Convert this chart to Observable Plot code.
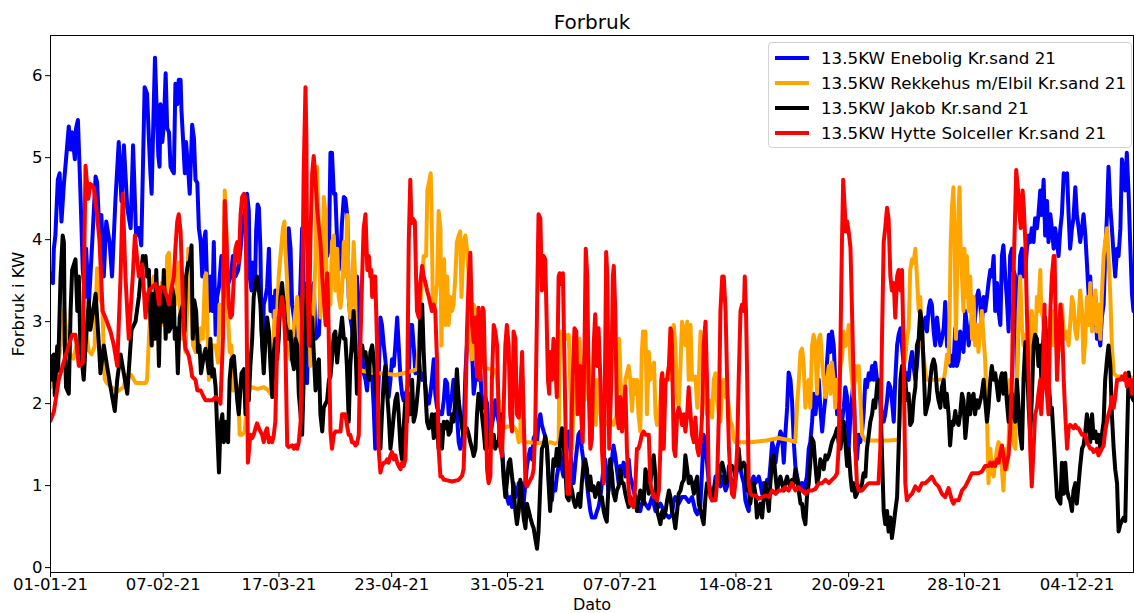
<!DOCTYPE html>
<html><head><meta charset="utf-8">
<script src="https://cdn.jsdelivr.net/npm/d3@7"></script>
<script src="https://cdn.jsdelivr.net/npm/@observablehq/plot@0.6"></script>
<style>
body{margin:0;background:#fff;font-family:"DejaVu Sans",sans-serif;}
#wrap{position:relative;width:1134px;height:613px;}
#legend{position:absolute;left:768px;top:42px;width:364px;height:106px;border:1px solid #d3d3d3;border-radius:4px;background:rgba(255,255,255,0.85);box-sizing:border-box;padding:2px 0 0 6px;}
.row{height:25px;display:flex;align-items:center;font-size:16.7px;color:#000;white-space:nowrap;}
.row svg{margin-right:12px;flex:none}
</style></head><body><div id="wrap"></div>
<script>
const title = "Forbruk";
const xLabel = "Dato";
const yLabel = "Forbruk i KW";
const startDate = "01-01-21";
const endDay = 355.5;
const tickLabels = ["01-01-21","07-02-21","17-03-21","23-04-21","31-05-21","07-07-21","14-08-21","20-09-21","28-10-21","04-12-21"];
const yTicks = [0,1,2,3,4,5,6];
const yDomain = [-0.06, 6.49];
const seriesNames = ["13.5KW Enebolig Kr.sand 21","13.5KW Rekkehus m/Elbil Kr.sand 21","13.5KW Jakob Kr.sand 21","13.5KW Hytte Solceller Kr.sand 21"];
const seriesColors = ["blue","orange","black","red"];

// [day since 01-01-21, kW]
const enebolig = [[0,3.59],[0.8,3.47],[1.1,3.89],[1.6,4.05],[2.4,4.73],[3.0,4.81],[3.6,4.22],[4.4,4.68],[5.1,4.98],[6.0,5.38],[6.6,5.1],[7.1,5.31],[8.0,4.98],[8.4,5.36],[9.0,5.46],[9.8,4.6],[10.6,3.63],[11.3,3.3],[11.7,3.89],[12.6,3.21],[13.7,3.97],[14.8,4.77],[15.3,4.7],[15.9,4.22],[16.7,4.3],[17.5,3.55],[18.3,4.22],[19.4,3.97],[20.2,3.55],[21.3,4.47],[22.4,5.19],[23.3,4.47],[24.1,5.15],[25.2,4.39],[26.3,4.14],[27.1,5.15],[28.1,4.05],[29.0,4.14],[29.8,3.93],[30.9,5.86],[31.7,5.78],[32.3,5.23],[32.8,4.81],[33.2,4.56],[33.9,5.65],[34.3,6.22],[34.8,5.65],[35.4,5.02],[35.8,4.89],[36.1,5.65],[36.7,5.19],[37.2,5.4],[37.8,6.03],[38.3,5.36],[38.9,5.31],[39.4,4.89],[39.9,4.85],[40.5,4.81],[41.0,5.9],[41.6,5.65],[42.1,5.95],[42.7,5.95],[43.0,5.57],[43.5,5.23],[44.1,4.81],[44.5,5.19],[45.2,4.85],[45.7,4.56],[46.5,5.4],[47.1,5.23],[47.6,4.73],[48.2,4.69],[48.7,4.14],[49.3,3.97],[49.8,3.55],[50.3,3.97],[50.9,4.1],[51.4,3.47],[52.0,3.13],[52.5,3.55],[53.1,3.13],[53.6,3.97],[54.2,2.84],[54.7,3.3],[55.3,3.42],[56.1,3.8],[56.9,3.3],[58.0,3.42],[59.1,3.55],[59.9,3.8],[60.7,3.55],[61.6,3.63],[62.4,3.89],[63.1,4.22],[64.0,4.39],[64.5,4.56],[65.1,4.35],[65.4,3.55],[66,3.38],[66.4,3.72],[67.1,3.38],[67.5,4.1],[68.0,4.43],[68.4,4.39],[68.9,3.89],[69.3,2.88],[69.7,2.63],[70.0,3.21],[70.6,3.3],[71.1,3.42],[71.7,3.89],[72.2,3.13],[72.8,3.3],[73.3,3.05],[73.8,3.38],[74.4,3.3],[74.9,3.05],[75.5,3.13],[76.0,3.3],[76.6,3.21],[77.1,2.92],[77.7,2.79],[78.2,4.14],[78.8,3.89],[79.3,3.21],[79.9,3.05],[80.4,2.79],[81.5,2.79],[82.6,4.14],[83.1,3.47],[83.7,3.0],[84.2,2.25],[84.8,3.13],[85.3,3.3],[86.4,3.47],[87,2.79],[88.1,2.84],[88.6,3.3],[89.2,3.72],[90.3,3.97],[90.8,3.8],[91.4,3.89],[91.9,5.06],[92.4,5.06],[93.0,4.56],[93.5,4.56],[94.1,3.97],[94.6,3.63],[95.2,3.8],[95.7,4.22],[96.3,4.52],[96.8,4.5],[97.4,4.3],[97.9,3.3],[98.4,3.05],[99.0,2.92],[99.5,2.71],[100.1,2.63],[100.6,3.55],[101.0,3.3],[101.4,2.79],[101.7,2.5],[102.3,2.63],[102.8,2.37],[103.4,2.29],[103.9,2.16],[104.5,2.46],[105.0,2.29],[105.6,2.33],[106.1,1.95],[106.6,1.45],[107.2,1.66],[107.7,2.29],[108.3,3.05],[108.8,2.96],[109.4,2.71],[109.9,2.54],[110.5,2.29],[111.0,2.08],[111.6,2.29],[112.1,2.54],[112.7,2.46],[113.2,2.71],[113.8,3.05],[114.3,2.71],[114.9,2.29],[115.4,2.12],[115.9,2.04],[116.5,2.12],[117.0,2.16],[117.6,2.29],[118.1,2.96],[118.7,2.96],[119.2,2.71],[119.8,2.37],[120.3,2.46],[120.9,2.54],[121.4,2.37],[122.0,2.29],[122.5,2.37],[123.1,2.2],[123.6,2.04],[124.2,2.0],[124.7,2.12],[125.2,2.29],[125.8,2.54],[126.3,2.12],[126.9,1.95],[127.4,1.91],[128.0,1.87],[128.5,1.87],[129.1,2.04],[129.6,2.29],[130.2,2.25],[130.7,1.87],[131.3,2.0],[131.8,2.12],[132.3,2.29],[132.9,2.04],[133.4,1.87],[134.0,1.53],[134.5,1.45],[135.1,1.53],[135.6,1.66],[136.2,2.37],[136.7,2.71],[137.3,2.88],[137.8,2.79],[138.4,2.63],[138.9,2.12],[139.5,2.29],[140.0,2.46],[140.5,2.29],[141.1,2.37],[141.6,2.04],[142.2,1.95],[142.7,2.08],[143.3,2.0],[143.8,1.66],[144.4,1.62],[144.9,1.74],[145.5,1.87],[146.0,2.04],[146.6,1.87],[147.1,1.78],[147.7,1.62],[148.2,1.45],[148.7,1.2],[149.3,1.03],[149.8,0.86],[150.4,0.78],[150.9,0.86],[151.5,0.74],[152.0,1.03],[152.6,0.86],[153.1,0.9],[153.7,1.03],[154.2,0.86],[154.8,1.03],[155.3,0.78],[155.9,1.03],[156.4,1.24],[157.0,1.37],[157.5,1.45],[158.1,1.32],[158.6,1.58],[159.1,1.62],[159.7,1.53],[160.2,1.78],[160.8,1.87],[161.3,1.74],[161.9,1.66],[162.4,1.6],[163.0,1.45],[163.5,1.11],[164.0,0.86],[164.6,0.82],[165.1,1.03],[165.7,0.94],[166.2,1.11],[166.8,1.24],[167.3,1.41],[167.9,1.2],[168.4,1.11],[169.0,1.45],[169.5,1.62],[170.1,1.66],[170.6,1.45],[171.2,1.11],[171.7,1.03],[172.3,1.28],[172.8,1.45],[173.3,1.62],[173.9,1.66],[174.4,1.45],[175.0,1.28],[175.5,1.2],[176.1,1.03],[176.6,0.86],[177.2,0.69],[177.7,0.61],[178.8,0.61],[179.4,0.69],[179.9,0.74],[180.5,0.86],[181.0,1.03],[181.6,1.24],[182.1,1.32],[182.6,1.11],[183.2,0.94],[183.7,1.11],[184.3,1.32],[184.8,1.49],[185.4,1.36],[185.9,1.2],[186.5,1.03],[187.0,1.24],[187.6,1.15],[188.1,1.28],[188.7,1.11],[189.2,1.24],[189.8,1.32],[190.3,1.11],[190.9,1.03],[191.4,0.94],[192.0,0.86],[192.5,0.74],[193.0,0.69],[193.6,0.69],[194.1,0.78],[194.7,0.82],[195.2,0.78],[196.3,0.72],[197.5,0.86],[198.6,0.69],[200.2,0.78],[201.9,0.65],[203.0,0.61],[204.0,0.65],[204.6,0.82],[205.1,0.86],[206.2,0.78],[207.3,0.86],[208.4,0.86],[209.5,0.8],[210.6,0.86],[211.7,0.69],[212.3,0.65],[213.3,0.74],[213.9,1.2],[214.4,1.62],[215.0,1.49],[215.5,1.28],[216.1,1.03],[216.6,0.94],[217.7,0.94],[218.3,1.11],[218.8,1.03],[219.9,0.99],[220.5,1.11],[221.6,0.94],[222.1,0.99],[222.7,1.24],[223.2,1.11],[223.7,1.03],[224.8,1.07],[225.4,1.2],[225.9,1.28],[226.5,1.2],[227.0,1.11],[227.6,1.03],[228.1,0.82],[228.7,0.74],[229.2,0.69],[229.7,1.03],[230.3,1.07],[230.8,1.11],[231.4,1.03],[232.0,1.07],[232.5,1.11],[233.0,1.03],[233.6,0.9],[234.1,1.03],[234.7,0.99],[235.2,1.07],[235.8,1.03],[236.3,1.24],[236.9,1.53],[237.4,1.45],[238.0,1.28],[238.5,1.45],[239.0,1.53],[239.6,1.66],[240.1,1.62],[240.7,1.28],[241.2,1.62],[241.8,1.95],[242.3,2.38],[242.9,2.29],[243.4,2.04],[244.0,1.53],[244.5,1.24],[245.1,1.11],[245.6,1.03],[246.2,0.99],[246.7,1.03],[247.2,0.94],[247.8,1.03],[248.3,1.11],[248.9,1.45],[249.4,1.53],[250.0,1.78],[250.5,2.12],[251.1,1.87],[251.6,2.08],[252.2,2.29],[252.7,1.95],[253.3,1.66],[253.8,1.87],[254.4,2.08],[254.9,2.5],[255.5,2.84],[256.0,2.63],[256.5,2.88],[257.1,2.71],[257.6,2.29],[258.2,1.87],[258.7,1.95],[259.3,1.87],[259.8,1.78],[260.4,1.95],[260.9,2.2],[261.5,2.08],[262.0,1.45],[262.6,1.87],[263.1,2.08],[263.6,2.29],[264.2,1.45],[264.7,1.32],[265.3,1.62],[265.8,1.53],[266.4,1.66],[266.9,1.87],[267.5,2.29],[268.0,2.2],[268.6,2.37],[269.1,2.29],[269.7,2.46],[270.2,2.29],[270.7,2.5],[271.3,2.29],[271.8,2.12],[272.4,2.04],[272.9,1.87],[273.5,1.78],[274.0,1.87],[274.6,2.04],[275.1,2.25],[275.7,2.2],[276.2,2.04],[276.8,1.78],[277.3,2.29],[277.9,2.71],[278.4,2.84],[279.0,2.92],[279.5,2.71],[280.0,2.5],[280.6,2.29],[281.1,2.37],[281.7,2.29],[282.2,2.5],[282.8,2.63],[283.3,2.46],[283.9,2.29],[284.4,2.46],[285.0,2.75],[285.5,3.0],[286.1,2.88],[286.6,2.96],[287.2,3.05],[287.7,2.88],[288.3,3.17],[288.8,3.26],[289.3,3.21],[289.9,2.88],[290.4,2.71],[291.0,3.05],[291.5,2.88],[292.1,2.71],[292.6,2.79],[293.2,2.92],[293.7,3.24],[294.3,2.7],[294.8,2.71],[295.4,2.46],[295.9,2.58],[296.4,2.46],[297.0,2.92],[297.5,2.46],[298.1,2.54],[298.6,2.88],[299.2,2.79],[299.7,2.63],[300.3,3.13],[300.8,2.96],[301.4,2.71],[301.9,2.88],[302.5,3.05],[303.0,2.79],[303.5,3.05],[304.1,3.3],[304.6,3.38],[305.2,3.21],[305.7,2.96],[306.3,3.3],[306.8,3.13],[307.4,3.3],[307.9,3.47],[308.5,3.63],[309.0,3.55],[309.6,3.8],[310.1,3.13],[310.7,3.47],[311.2,3.13],[311.8,2.96],[312.3,3.8],[312.8,3.93],[313.4,3.55],[313.9,3.3],[314.5,2.88],[315.0,3.8],[315.6,3.89],[316.1,3.63],[316.7,3.55],[317.2,2.29],[317.8,3.3],[318.3,3.8],[318.9,3.89],[319.4,3.55],[320.0,3.63],[320.5,3.89],[321.1,4.05],[321.6,3.97],[322.1,4.14],[322.7,3.97],[323.2,4.26],[323.8,4.14],[324.3,4.31],[324.9,4.6],[325.4,4.3],[326.0,4.73],[326.5,4.05],[327.1,4.47],[327.6,3.97],[328.2,4.31],[328.7,4.14],[329.3,3.89],[329.8,4.14],[330.4,3.97],[330.9,3.8],[331.5,4.14],[332.0,4.31],[332.6,4.81],[333.1,4.73],[333.7,4.81],[334.2,4.31],[334.7,3.89],[335.3,4.14],[335.8,4.26],[336.4,4.64],[336.9,4.31],[337.5,4.14],[338.0,3.97],[338.6,4.14],[339.1,4.31],[339.7,4.05],[340.2,3.72],[340.8,3.3],[341.3,3.55],[341.9,3.05],[342.4,2.96],[343.0,3.3],[343.5,2.79],[344.0,2.88],[344.6,2.71],[345.1,3.05],[345.7,3.21],[346.2,3.8],[346.8,4.31],[347.3,4.89],[347.9,4.39],[348.4,4.14],[349.0,3.8],[349.5,3.55],[350.1,3.89],[350.6,3.8],[351.2,4.14],[351.7,4.98],[352.3,4.81],[352.8,4.6],[353.3,5.06],[353.9,4.56],[354.4,3.97],[355.0,3.34],[355.5,3.13]];

const rekkehus = [[0,2.2],[1,2.3],[2,2.5],[3,2.6],[4.5,3.15],[5.5,2.75],[6.5,2.6],[7.5,2.55],[8.5,2.7],[9.5,2.65],[10.6,2.95],[11.5,2.9],[12.5,2.65],[13.5,2.6],[14.5,2.7],[15.3,3.65],[16,3.3],[17,3.2],[17.8,2.3],[18.5,2.25],[20,2.2],[22,2.15],[24,2.2],[25,2.35],[26.5,2.35],[28,2.25],[30,2.25],[31.2,2.25],[31.7,2.29],[32.3,2.79],[32.8,3.13],[33.4,2.71],[33.9,3.55],[34.5,3.21],[35,3.0],[35.6,2.79],[36.5,3.47],[37.2,2.96],[37.8,2.96],[38.3,3.8],[38.9,3.84],[39.4,3.38],[40,3.3],[41.0,3.21],[41.6,3.55],[42.1,3.72],[42.7,2.79],[43.2,2.88],[43.8,2.84],[44.3,2.63],[44.9,3.21],[45.2,3.89],[45.6,3.55],[46.3,3.21],[46.8,2.71],[47.6,2.63],[48.5,2.71],[49.3,2.92],[50.0,2.79],[50.7,3.55],[51.1,3.59],[51.6,2.79],[52.0,2.29],[52.5,2.46],[53.1,2.71],[54.2,2.71],[55.0,2.5],[55.5,3.21],[56.1,2.84],[56.6,2.96],[57.2,4.6],[57.7,4.14],[58.3,3.05],[58.8,2.63],[59.4,2.71],[59.9,2.16],[60.7,2.29],[61.6,2.16],[62.1,1.62],[62.9,1.62],[63.8,1.66],[64.6,2.12],[65.3,2.16],[66,2.2],[68,2.18],[70,2.2],[71.5,2.16],[72.2,2.12],[73.0,2.63],[73.6,3.13],[74.2,2.92],[74.9,3.55],[75.7,3.89],[76.3,4.14],[76.8,4.22],[77.1,3.89],[77.7,3.47],[78.2,2.71],[78.8,2.54],[79.3,2.71],[79.9,2.96],[80.4,3.13],[81.0,3.3],[81.5,2.79],[82.1,2.54],[82.6,2.71],[83.1,2.88],[83.7,3.13],[84.2,3.47],[84.8,3.63],[85.3,2.46],[85.9,2.63],[86.4,3.13],[87.0,3.8],[87.5,4.89],[88.1,4.14],[88.6,3.05],[89.2,3.55],[89.7,4.52],[90.3,4.31],[90.8,2.96],[91.4,3.47],[91.9,3.21],[92.4,3.97],[93.0,4.05],[93.5,3.38],[94.1,3.89],[94.6,3.3],[95.2,3.17],[95.7,3.38],[96.3,3.97],[96.8,3.55],[97.4,4.3],[97.9,3.3],[98.4,3.05],[99.0,3.3],[99.5,3.97],[99.9,3.63],[100.3,2.71],[101.2,2.46],[101.7,2.42],[102.3,2.4],[105,2.38],[108,2.37],[111,2.36],[113.2,2.35],[116,2.37],[118.7,2.4],[120.3,2.42],[120.9,2.71],[121.4,3.21],[122.5,3.8],[123.3,3.8],[123.7,4.6],[124.4,4.73],[124.8,4.81],[125.1,4.31],[125.5,3.21],[125.9,3.13],[126.9,3.47],[127.4,4.35],[128.0,4.14],[128.3,2.71],[128.8,3.55],[129.2,3.76],[129.6,2.96],[130.2,3.55],[130.7,2.96],[131.3,3.3],[131.8,3.13],[132.3,3.21],[132.9,3.55],[133.4,3.97],[134.0,4.05],[134.5,4.1],[134.9,3.3],[135.1,3.47],[135.6,3.97],[136.2,4.05],[136.7,3.89],[137.3,3.55],[137.8,2.71],[138.4,2.54],[138.9,3.21],[139.5,3.13],[140.0,2.71],[140.5,2.46],[141.1,2.46],[142.7,2.44],[144.4,2.42],[146.0,2.41],[146.6,2.29],[147.1,2.04],[147.7,1.87],[148.2,1.74],[148.7,1.7],[150,1.72],[152,1.72],[153.1,1.66],[153.7,1.53],[154.2,1.55],[154.6,2.45],[155.0,2.2],[155.3,1.53],[157,1.53],[160,1.52],[164.1,1.53],[165.7,1.51],[166.8,1.53],[167.1,2.5],[167.5,2.88],[168.4,2.83],[169.0,2.84],[169.5,2.79],[170.1,2.84],[170.6,2.29],[171.2,1.45],[171.7,1.95],[172.3,2.29],[172.8,2.08],[173.3,2.71],[173.7,2.79],[174.2,2.29],[174.7,2.54],[175.3,2.04],[175.7,2.29],[176.4,2.71],[176.9,2.29],[177.5,2.04],[178.0,2.12],[178.6,1.87],[179.0,1.74],[179.4,2.29],[179.9,2.16],[180.5,1.87],[181.0,1.78],[182.1,1.78],[183.2,1.74],[184.3,1.78],[184.8,1.74],[185.9,1.87],[186.3,2.71],[186.7,2.79],[187.1,2.29],[187.6,2.08],[188.1,1.78],[188.7,2.29],[189.8,2.46],[190.3,2.29],[190.9,1.91],[191.4,2.29],[192.0,2.12],[192.5,2.29],[193.0,1.87],[193.6,1.66],[194.1,2.62],[194.5,2.88],[195.3,2.88],[195.8,1.87],[196.4,2.63],[196.9,2.29],[197.5,2.46],[198.1,2.5],[198.6,1.87],[199.1,1.74],[199.7,1.87],[200.2,2.04],[200.8,2.37],[201.3,2.21],[201.9,2.25],[202.4,2.29],[203.0,2.46],[203.5,2.29],[204.0,2.84],[204.6,2.96],[205.1,2.71],[205.7,2.08],[206.2,1.95],[206.8,2.46],[207.3,3.0],[207.9,2.88],[208.4,2.71],[209.0,3.0],[209.5,2.29],[210.1,2.96],[210.6,2.29],[211.2,2.29],[211.7,2.33],[212.3,1.95],[212.8,2.29],[213.4,2.88],[213.9,2.71],[214.4,2.29],[215.0,2.08],[215.5,1.87],[216.1,1.95],[216.6,2.04],[217.2,1.83],[217.7,2.29],[218.3,2.37],[218.8,2.04],[219.4,1.87],[219.9,1.78],[220.5,2.25],[221.0,2.29],[221.6,2.08],[222.1,2.12],[222.7,1.95],[223.2,1.78],[223.7,1.74],[224.3,1.57],[224.8,1.53],[227,1.53],[229.8,1.53],[235,1.55],[239,1.58],[243,1.55],[244.5,1.53],[245.1,2.0],[245.6,2.25],[246.2,2.63],[246.7,2.67],[247.2,2.5],[247.8,1.95],[248.3,2.2],[248.9,2.29],[249.4,1.95],[250.0,2.71],[250.5,2.84],[251.1,2.71],[251.6,2.12],[252.2,2.79],[252.7,2.84],[253.3,2.5],[253.8,2.29],[254.4,2.08],[254.9,2.29],[255.5,2.46],[256.0,2.12],[256.5,2.5],[257.1,2.29],[257.6,1.95],[258.2,2.29],[258.7,2.04],[259.3,2.46],[259.8,2.54],[260.4,2.88],[260.9,2.7],[261.5,2.75],[262.0,2.96],[262.6,2.5],[263.1,2.29],[263.6,2.08],[264.2,2.46],[264.7,2.29],[265.3,2.46],[265.8,2.08],[266.4,1.62],[267.5,1.55],[272,1.55],[275,1.55],[278.4,1.56],[278.9,1.87],[279.5,2.29],[280.0,2.46],[280.6,2.54],[281.1,2.79],[281.7,2.92],[282.2,3.63],[282.8,3.76],[283.3,3.72],[283.9,3.89],[284.4,3.55],[285.0,3.13],[285.5,3.3],[286.1,2.71],[286.6,2.58],[287.2,2.37],[287.7,2.29],[290,2.29],[293.2,2.29],[293.7,2.4],[294.3,2.6],[294.8,2.5],[295.2,3.2],[295.5,3.97],[295.9,4.39],[296.4,4.64],[296.8,3.97],[297.2,2.79],[297.6,3.55],[298.1,4.39],[298.4,4.64],[298.7,3.97],[299.2,3.55],[299.7,3.13],[300.0,3.89],[300.5,3.3],[300.8,3.8],[301.4,3.13],[301.9,3.55],[302.5,2.79],[303.0,3.3],[303.5,2.71],[304.1,2.96],[304.6,2.63],[305.2,2.92],[305.7,3.13],[306.3,2.79],[306.8,2.54],[307.4,1.87],[307.9,1.03],[308.5,1.45],[309.0,1.2],[309.6,1.11],[310.1,1.28],[310.7,1.45],[311.2,1.53],[311.8,1.45],[312.3,1.2],[312.8,0.94],[313.4,1.45],[313.9,1.2],[314.5,1.53],[315.0,2.29],[315.6,2.08],[316.1,1.53],[316.7,1.45],[317.2,2.29],[317.8,3.13],[318.3,3.55],[318.9,2.92],[319.4,2.71],[320.0,2.84],[320.5,2.29],[321.1,2.5],[321.6,2.71],[322.1,3.13],[322.7,2.88],[323.2,2.71],[323.8,3.3],[324.3,3.13],[324.9,3.63],[325.2,3.13],[325.8,3.05],[326.2,2.71],[326.9,2.54],[327.3,2.79],[327.6,2.54],[328.2,3.05],[328.7,2.71],[329.3,3.13],[329.8,2.71],[330.4,2.88],[330.9,2.63],[331.5,2.79],[332.0,3.21],[332.6,2.88],[333.1,2.79],[333.7,2.88],[334.2,2.71],[334.7,2.96],[335.3,3.3],[335.8,3.21],[336.4,2.88],[336.9,2.79],[337.5,3.05],[338.0,3.38],[338.6,3.13],[339.1,2.5],[339.7,2.79],[340.2,3.3],[340.8,2.96],[341.3,3.47],[341.9,2.88],[342.4,3.13],[343.0,3.38],[343.5,2.88],[344.0,3.21],[344.6,2.79],[345.1,3.3],[345.7,3.8],[346.2,3.97],[346.8,4.14],[347.3,3.8],[347.9,3.3],[348.4,2.71],[349.0,2.37],[350.1,2.33],[354.4,2.33],[355.5,2.29]];

const jakob = [[0,2.58],[0.6,2.29],[1.1,2.6],[1.4,2.1],[2.2,2.7],[2.5,2.4],[3.3,3.55],[4.0,4.05],[4.4,3.97],[4.7,2.71],[5.1,2.2],[6.0,2.12],[6.6,3.13],[7.1,3.63],[8.2,3.76],[8.8,3.13],[9.3,3.55],[9.8,2.71],[10.9,2.29],[11.5,2.71],[12.6,3.26],[13.1,2.9],[14.8,3.34],[15.9,2.71],[16.4,2.37],[17.5,2.71],[18.6,2.45],[19.7,2.2],[21.1,1.91],[21.9,2.29],[23,2.6],[25.2,2.12],[26.6,2.9],[27.9,3.0],[29,3.3],[30.3,3.8],[30.9,3.7],[31.2,3.8],[31.7,3.55],[32.3,3.63],[32.8,3.05],[33.2,2.71],[33.6,3.34],[34.2,2.79],[34.7,3.63],[35.1,3.21],[35.6,2.46],[36.1,3.34],[36.7,3.0],[37.2,3.63],[37.8,2.79],[38.3,3.3],[38.9,2.88],[39.4,2.92],[39.9,3.42],[40.5,3.3],[40.8,2.79],[41.3,2.92],[41.8,2.37],[42.4,3.05],[42.9,3.13],[43.5,3.21],[44.0,2.88],[44.5,3.55],[45.2,3.72],[45.7,3.72],[46.3,3.93],[46.7,2.79],[47.2,3.26],[47.8,3.13],[48.4,2.63],[48.9,2.71],[49.4,2.37],[49.8,2.46],[50.3,2.58],[50.9,2.67],[51.4,2.54],[52.0,2.37],[52.5,2.79],[53.1,2.33],[53.6,2.42],[54.2,2.2],[54.7,1.7],[55.3,1.16],[55.8,1.74],[56.4,1.87],[56.9,1.53],[57.5,1.78],[58.3,1.53],[58.8,2.29],[59.4,2.54],[60.2,2.58],[60.7,2.33],[61.3,2.04],[61.8,1.87],[62.7,2.37],[63.5,2.42],[64.0,1.87],[64.5,2.12],[65.1,2.04],[65.6,2.46],[66.2,2.79],[66.7,3.3],[67.3,3.47],[67.8,3.55],[68.4,3.38],[68.9,3.21],[69.5,2.71],[70.0,2.37],[70.6,2.79],[71.1,3.05],[71.7,2.88],[72.2,2.46],[72.8,2.08],[73.3,2.63],[73.8,2.79],[74.4,2.54],[74.9,2.79],[75.5,3.3],[76.0,3.47],[76.6,3.21],[77.1,2.96],[77.7,2.88],[78.2,2.79],[78.8,2.88],[79.3,2.54],[79.9,2.42],[80.4,2.79],[81.0,2.71],[81.5,2.12],[82.1,1.87],[82.6,1.62],[83.1,2.29],[83.7,3.05],[84.2,3.47],[84.8,3.38],[85.3,2.71],[85.9,3.05],[86.4,2.63],[87.0,2.16],[87.5,2.46],[88.1,2.54],[88.6,1.87],[89.2,1.66],[89.7,1.95],[90.3,2.0],[90.8,2.04],[91.4,2.29],[91.9,2.33],[92.4,2.54],[93.0,2.84],[93.5,2.88],[94.1,2.5],[94.6,2.71],[95.2,2.88],[95.7,3.05],[96.3,2.79],[96.8,2.79],[97.3,2.46],[97.9,1.78],[98.4,2.46],[99.0,2.79],[99.5,3.13],[100.1,2.71],[100.6,2.12],[101.2,2.37],[101.7,2.63],[102.3,2.71],[102.8,2.58],[103.4,2.63],[103.9,2.46],[104.5,2.29],[105.0,2.63],[105.6,2.71],[106.1,2.54],[106.6,2.29],[107.2,2.04],[107.7,1.62],[108.3,1.45],[108.8,1.87],[109.4,2.29],[109.9,2.46],[110.5,2.12],[111.0,1.87],[111.6,1.45],[112.1,1.62],[112.7,1.87],[113.2,2.04],[113.8,2.12],[114.3,1.87],[114.9,1.45],[115.4,1.32],[115.9,1.7],[116.5,2.04],[117.0,1.78],[117.6,2.12],[118.1,1.87],[118.7,2.29],[119.2,1.78],[119.8,1.87],[120.3,2.04],[120.9,2.29],[121.4,3.05],[122.0,3.21],[122.5,2.63],[123.1,2.12],[123.6,1.78],[124.2,1.7],[124.7,1.74],[125.2,1.87],[125.8,1.58],[126.3,1.87],[126.9,1.7],[127.4,1.45],[128.0,1.74],[128.5,1.45],[129.1,1.78],[129.6,1.7],[130.2,1.78],[130.7,1.62],[131.3,1.66],[131.8,1.87],[132.3,1.78],[132.9,2.04],[133.4,2.42],[134.0,2.04],[134.5,1.87],[135.1,1.7],[135.6,1.62],[136.2,1.66],[136.7,1.7],[137.3,1.62],[137.8,1.53],[138.4,1.45],[138.9,1.36],[139.5,1.45],[140.0,1.87],[140.5,2.12],[141.1,2.04],[141.6,1.87],[142.2,1.66],[142.7,1.45],[143.3,1.66],[143.8,1.62],[144.4,1.45],[144.9,1.49],[145.5,1.62],[146.0,1.45],[146.6,1.53],[147.1,1.49],[147.7,1.87],[148.2,1.45],[148.7,1.11],[149.3,0.86],[149.8,1.03],[150.4,1.28],[150.9,1.32],[151.5,1.11],[152.0,0.94],[152.6,0.69],[153.1,0.53],[153.7,0.69],[154.2,1.07],[154.8,0.86],[155.3,0.61],[155.9,0.48],[156.4,0.78],[157.0,0.69],[157.5,0.61],[158.1,0.53],[158.6,0.48],[159.1,0.36],[159.7,0.23],[160.2,0.44],[160.8,1.03],[161.3,1.45],[161.9,1.5],[162.4,1.6],[163.0,1.45],[163.5,1.03],[164.0,0.69],[164.6,1.03],[165.1,1.32],[165.7,1.24],[166.2,1.45],[166.8,1.24],[167.3,1.53],[167.9,1.7],[168.4,1.53],[169.0,1.2],[169.5,0.86],[170.1,0.82],[170.6,1.03],[171.2,0.94],[171.7,0.82],[172.3,0.74],[172.8,0.78],[173.3,0.9],[173.9,0.74],[174.4,1.03],[175.0,1.28],[175.5,1.32],[176.1,1.2],[176.6,0.94],[177.2,1.11],[177.7,0.94],[178.3,0.99],[178.8,0.86],[179.4,0.94],[179.9,1.03],[180.5,0.82],[181.0,0.86],[181.6,0.69],[182.1,0.61],[182.6,0.56],[183.2,1.03],[183.7,1.32],[184.3,1.15],[184.8,0.9],[185.4,0.82],[185.9,0.94],[186.5,0.99],[187.0,1.2],[187.6,1.03],[188.1,1.03],[188.7,0.9],[189.2,0.82],[189.8,0.74],[190.3,0.86],[190.9,0.82],[191.4,0.74],[192.0,0.86],[192.5,0.69],[193.0,0.82],[193.6,0.94],[194.1,0.86],[194.7,0.78],[195.3,1.2],[195.8,1.11],[196.4,0.9],[196.9,1.03],[197.5,1.24],[198.0,1.37],[198.6,1.11],[199.1,0.69],[199.7,0.61],[200.2,0.53],[200.8,0.69],[201.3,0.61],[201.9,0.69],[202.4,0.82],[203.0,0.94],[203.5,0.86],[204.0,0.69],[204.6,0.61],[205.1,0.48],[205.7,0.69],[206.2,0.9],[206.8,0.94],[207.3,1.03],[207.9,1.07],[208.4,1.37],[209.0,1.2],[209.5,1.03],[210.1,1.11],[210.6,1.03],[211.2,0.9],[211.7,1.03],[212.3,1.11],[212.8,0.78],[213.4,0.69],[213.9,0.61],[214.4,0.53],[215.0,0.86],[215.5,1.03],[216.1,0.94],[216.6,0.9],[217.2,0.82],[217.7,0.94],[218.3,1.03],[218.8,1.07],[219.4,1.03],[219.9,1.24],[220.5,1.28],[221.0,1.2],[221.6,1.03],[222.1,1.07],[222.7,1.11],[223.2,1.2],[223.7,1.24],[224.3,1.2],[224.8,1.11],[225.4,1.28],[225.9,1.45],[226.5,1.2],[227.0,1.24],[227.6,1.28],[228.1,1.24],[228.6,0.94],[229.2,1.03],[229.7,0.78],[230.3,0.94],[230.8,1.03],[231.4,0.9],[231.9,0.61],[232.5,0.69],[233.0,0.78],[233.6,0.61],[234.1,0.86],[234.7,1.03],[235.2,0.86],[235.8,0.69],[236.3,1.03],[236.9,1.32],[237.4,1.37],[238.0,1.11],[238.5,0.94],[239.0,1.03],[239.6,1.11],[240.1,1.03],[240.7,0.94],[241.2,1.03],[241.8,1.11],[242.3,1.03],[242.9,0.99],[243.4,1.07],[244.0,1.03],[244.5,1.2],[245.1,1.07],[245.6,0.94],[246.2,0.78],[246.7,0.78],[247.2,0.61],[247.8,0.53],[248.3,0.86],[248.9,1.03],[249.4,1.28],[249.9,1.58],[250.5,1.53],[251.1,1.24],[251.6,1.03],[252.2,1.11],[252.7,1.32],[253.3,1.28],[253.8,1.2],[254.4,1.37],[254.9,1.32],[255.5,1.37],[256.0,1.45],[256.5,1.53],[257.1,1.58],[257.6,1.62],[258.2,1.7],[258.7,1.53],[259.3,1.45],[259.8,1.62],[260.4,1.78],[260.9,1.53],[261.5,1.24],[262.0,1.45],[262.6,1.11],[263.1,0.94],[263.6,1.03],[264.2,0.86],[264.7,0.9],[265.3,0.99],[265.8,0.94],[266.4,1.03],[266.9,1.15],[267.5,1.11],[268.0,1.45],[268.6,1.62],[269.1,1.78],[269.7,1.87],[270.2,2.04],[270.7,1.95],[271.3,2.21],[271.8,2.29],[272.4,2.08],[272.9,1.45],[273.5,0.69],[274.0,0.53],[274.6,0.69],[275.1,0.44],[275.7,0.61],[276.2,0.36],[276.8,0.53],[277.3,0.69],[277.9,0.86],[278.4,1.45],[279.0,2.29],[279.5,2.46],[280.0,2.37],[280.6,2.29],[281.1,2.04],[281.7,2.12],[282.2,1.74],[282.8,1.78],[283.3,2.04],[283.9,2.2],[284.4,2.71],[285.0,2.79],[285.5,3.13],[286.1,2.96],[286.6,2.46],[287.2,1.87],[287.7,1.95],[288.3,2.04],[288.8,2.29],[289.3,2.46],[289.9,2.54],[290.4,2.46],[291.0,2.16],[291.5,2.04],[292.1,1.95],[292.6,2.2],[293.2,2.29],[293.7,1.96],[294.2,2.12],[294.8,1.87],[295.3,1.49],[295.9,1.78],[296.4,1.74],[297.0,1.91],[297.5,1.78],[298.1,1.74],[298.6,1.87],[299.2,2.12],[299.7,2.04],[300.3,1.58],[300.8,1.78],[301.4,2.12],[301.9,1.87],[302.5,2.08],[303.0,2.12],[303.5,1.87],[304.1,2.04],[304.6,1.95],[305.2,2.04],[305.7,2.12],[306.3,2.29],[306.8,2.04],[307.4,1.78],[307.9,1.95],[308.5,2.29],[309.0,2.46],[309.6,2.29],[310.1,2.37],[310.7,2.2],[311.2,2.04],[311.8,2.29],[312.3,2.37],[312.8,2.12],[313.4,2.37],[313.9,2.04],[314.5,1.78],[315.0,2.08],[315.6,2.12],[316.1,1.87],[316.7,1.78],[317.2,2.29],[317.8,1.95],[318.3,1.62],[318.9,1.45],[319.4,2.29],[320.0,2.75],[320.5,2.5],[321.1,1.95],[321.6,1.62],[322.1,2.04],[322.7,2.71],[323.2,2.84],[323.8,2.79],[324.3,2.46],[324.9,2.71],[325.4,2.08],[325.8,2.71],[326.2,2.96],[326.5,3.05],[326.9,2.71],[327.3,2.84],[327.6,2.29],[328.0,2.08],[328.4,1.87],[328.7,1.95],[329.1,1.7],[329.5,1.45],[329.8,1.24],[330.4,0.86],[330.9,0.82],[331.5,0.78],[332.0,1.28],[332.6,0.9],[333.1,1.28],[333.7,0.94],[334.2,0.86],[334.7,0.82],[335.3,0.69],[335.8,0.94],[336.4,1.03],[336.9,0.78],[337.5,1.03],[338.0,1.24],[338.6,1.45],[339.1,1.49],[339.7,1.66],[340.2,1.87],[340.8,1.74],[341.3,1.53],[341.9,1.87],[342.4,1.58],[343.0,1.66],[343.5,1.53],[344.0,1.62],[344.6,1.45],[345.1,1.62],[345.7,1.78],[346.2,2.29],[346.8,2.54],[347.3,2.71],[347.9,2.46],[348.4,1.87],[349.0,1.45],[349.5,1.2],[350.1,1.03],[350.6,0.44],[351.2,0.53],[351.7,0.57],[352.3,0.61],[352.8,0.57],[353.3,1.45],[353.9,2.38],[354.4,2.2],[355.0,2.08],[355.5,2.04]];

const hytte = [[0,1.79],[1.1,1.9],[2.7,2.29],[4.9,2.58],[7.1,2.84],[8.2,2.84],[9.3,2.46],[10.6,2.5],[11.5,4.9],[12.4,4.5],[13.1,4.68],[14.2,4.64],[15.3,4.3],[16.1,3.97],[17.1,3.13],[18,3.05],[19.7,2.88],[20.8,2.71],[21.9,2.46],[23,3.55],[23.7,4.56],[24.6,3.55],[25.7,2.79],[27.0,3.55],[27.7,4.05],[29,3.55],[30.1,3.7],[31.2,3.05],[31.7,3.3],[32.3,3.38],[33.4,3.42],[34.5,3.46],[35,3.38],[35.6,3.21],[36.1,3.42],[37.2,3.42],[37.8,3.34],[38.3,3.3],[38.9,3.21],[39.4,3.34],[40.5,3.55],[41.0,3.89],[41.6,4.22],[42.1,4.31],[42.7,4.1],[43.2,3.55],[43.8,2.88],[44.3,2.67],[44.9,2.63],[45.4,2.58],[46.0,2.46],[46.5,2.33],[47.6,2.29],[48.2,2.16],[49.3,2.16],[49.8,2.12],[50.3,2.08],[50.9,2.04],[52.0,2.04],[53.1,2.04],[54.2,2.08],[55.3,2.04],[55.8,2.0],[56.6,2.79],[57.2,4.47],[57.8,3.97],[58.5,3.21],[59.1,3.05],[59.6,3.08],[60.2,3.55],[60.7,3.89],[61.3,3.97],[61.8,3.72],[62.4,4.31],[62.9,4.52],[63.5,4.56],[64.0,4.5],[64.4,3.0],[64.8,1.28],[65.6,1.62],[66.2,1.58],[66.7,1.62],[67.3,1.7],[67.8,1.76],[68.4,1.7],[68.9,1.66],[69.5,1.62],[70.0,1.53],[70.6,1.66],[71.1,1.7],[71.7,1.53],[72.2,1.58],[72.8,1.53],[73.3,1.62],[73.8,1.78],[74.4,2.71],[74.9,3.05],[75.5,3.17],[76.0,3.3],[76.6,3.13],[77.1,2.71],[77.7,1.49],[78.2,1.47],[79.3,1.49],[79.9,1.45],[80.4,1.49],[81.0,1.45],[81.5,1.53],[82.1,1.78],[82.6,3.13],[83.1,4.81],[83.7,5.86],[84.0,5.23],[84.2,3.97],[84.8,2.71],[85.3,3.97],[85.9,4.81],[86.4,5.02],[87.0,4.73],[87.5,4.39],[88.1,4.14],[88.6,3.97],[89.2,3.55],[89.7,3.3],[90.3,2.96],[90.8,3.59],[91.1,3.3],[91.6,2.29],[91.9,1.66],[92.4,1.45],[93.0,1.62],[93.5,1.66],[94.6,1.66],[95.2,1.66],[95.7,1.87],[96.3,1.87],[96.8,1.87],[97.3,1.74],[97.9,1.62],[98.4,1.62],[99.0,1.53],[99.5,1.53],[100.1,1.49],[100.6,1.51],[101.2,1.62],[101.7,2.71],[102.3,3.55],[102.8,4.14],[103.4,4.31],[103.7,3.97],[104.0,3.63],[104.5,3.8],[105.0,3.55],[105.3,3.63],[105.6,3.3],[106.1,3.55],[106.6,3.55],[107.2,2.71],[107.7,1.45],[108.3,1.16],[108.8,1.24],[109.4,1.28],[109.9,1.28],[110.5,1.32],[111.0,1.28],[111.6,1.37],[112.1,1.41],[112.7,1.32],[113.2,1.37],[113.8,1.28],[114.3,1.24],[114.9,1.2],[115.4,1.28],[115.9,1.24],[116.5,1.32],[117.0,1.87],[117.6,3.97],[118.1,4.73],[118.5,4.2],[118.9,4.26],[119.6,4.22],[120.0,3.55],[120.3,3.13],[120.9,3.05],[121.4,3.47],[122.0,3.68],[122.5,3.55],[123.1,3.47],[123.6,3.38],[124.2,3.3],[124.7,3.21],[125.2,3.13],[125.8,3.21],[126.3,3.13],[126.9,2.5],[127.4,1.45],[128.0,1.11],[128.5,1.11],[129.1,1.07],[129.6,1.07],[131.8,1.05],[134.0,1.07],[135.1,1.12],[135.6,1.2],[136.2,1.87],[136.7,2.88],[137.3,3.55],[137.8,3.84],[138.4,2.96],[138.9,2.75],[139.5,3.05],[140.0,2.33],[140.5,3.17],[141.1,2.29],[141.4,2.71],[141.9,3.17],[142.2,3.13],[142.7,2.29],[143.3,1.2],[143.8,1.03],[144.4,1.11],[144.9,2.29],[145.5,2.96],[146.0,2.88],[146.6,2.71],[147.1,1.87],[147.7,1.45],[148.2,1.36],[148.7,1.87],[149.3,2.71],[149.8,2.96],[150.4,2.71],[150.9,1.87],[151.5,1.66],[152.0,2.88],[152.6,2.79],[153.1,1.87],[153.7,1.83],[154.2,2.1],[154.8,2.63],[155.3,1.87],[155.9,1.03],[156.4,0.99],[157.0,1.03],[157.5,1.07],[158.1,1.11],[158.6,1.2],[159.1,1.66],[159.7,3.13],[160.2,4.31],[160.8,4.26],[161.3,3.38],[161.9,3.8],[162.4,3.76],[162.7,3.3],[163.3,2.29],[163.7,2.12],[164.0,2.63],[164.6,2.29],[165.1,2.79],[165.7,2.5],[166.2,2.08],[166.8,3.55],[167.1,3.59],[167.7,3.46],[168.2,3.59],[168.6,2.71],[169.2,1.45],[169.7,0.9],[170.3,0.9],[170.8,1.45],[171.4,2.29],[172.0,2.92],[172.6,2.88],[173.0,1.87],[173.3,1.95],[173.9,2.46],[174.2,1.87],[174.7,1.53],[175.3,2.71],[175.7,3.89],[176.2,3.55],[176.6,2.29],[177.2,1.45],[177.7,1.57],[178.3,2.71],[178.8,3.09],[179.4,2.46],[179.9,2.92],[180.5,2.29],[181.0,1.45],[181.6,1.03],[182.1,2.71],[182.4,3.85],[182.8,3.55],[183.0,2.71],[183.4,1.45],[184.1,2.29],[184.6,3.55],[184.9,3.68],[185.4,3.13],[185.9,1.87],[186.5,1.7],[187.0,2.08],[187.6,1.66],[188.1,1.91],[188.7,2.21],[189.2,1.45],[189.8,0.94],[190.3,0.78],[190.9,0.78],[191.4,0.74],[192.0,1.03],[192.5,1.45],[193.0,1.45],[193.6,1.53],[194.1,1.62],[194.7,1.66],[195.3,1.62],[196.4,1.62],[196.9,1.03],[197.5,0.94],[198.0,0.86],[198.6,0.86],[199.1,0.82],[199.7,0.94],[200.2,1.45],[200.5,2.29],[200.8,2.37],[201.3,1.45],[201.9,2.29],[202.4,2.29],[203.0,2.46],[203.5,2.92],[203.8,2.88],[204.0,2.71],[204.6,1.45],[205.1,1.36],[205.7,1.87],[206.2,1.95],[206.8,1.87],[207.3,1.74],[207.9,1.87],[208.4,1.66],[209.0,1.87],[209.5,2.2],[210.1,1.87],[210.6,1.62],[211.2,1.53],[211.7,1.83],[212.3,1.45],[212.8,1.37],[213.4,1.53],[213.9,1.87],[214.4,2.71],[215.0,3.0],[215.5,2.29],[216.1,1.03],[216.6,0.86],[217.2,0.82],[218.3,0.82],[218.8,1.03],[219.4,1.87],[219.9,3.13],[220.5,3.55],[221.0,3.55],[221.6,3.13],[222.1,2.29],[222.7,1.45],[223.2,1.11],[223.7,0.9],[224.3,0.86],[224.8,1.03],[225.4,1.45],[225.9,2.29],[226.5,3.13],[227.0,3.21],[227.6,3.13],[227.9,3.55],[228.3,3.13],[228.7,2.29],[229.2,1.03],[229.8,0.9],[230.3,0.88],[231.4,0.88],[232.5,0.84],[233.6,0.86],[234.7,0.88],[235.8,0.86],[236.9,0.94],[238.0,0.9],[239.0,0.94],[240.1,0.94],[241.2,0.98],[242.3,0.94],[243.4,1.03],[244.5,0.94],[245.6,0.98],[246.7,0.94],[247.8,0.9],[248.9,0.94],[250.0,0.94],[251.1,0.96],[252.2,1.03],[253.3,1.03],[254.4,1.07],[255.5,1.03],[256.5,1.07],[257.6,1.11],[258.2,1.15],[258.7,1.45],[259.3,2.71],[259.8,3.97],[260.2,4.73],[260.7,4.39],[261.1,4.1],[261.5,4.22],[262.0,4.1],[262.6,3.9],[263.1,3.13],[263.6,2.29],[264.2,1.45],[264.7,1.03],[265.3,0.94],[266.4,0.94],[267.5,0.99],[268.6,1.03],[269.7,1.03],[270.7,1.03],[271.8,1.03],[272.4,1.45],[272.9,2.71],[273.5,3.97],[274.0,4.14],[274.6,4.39],[275.1,4.26],[275.7,3.55],[276.2,3.38],[276.8,3.47],[277.3,3.05],[277.9,3.55],[278.4,3.63],[279.0,3.38],[279.5,3.63],[280.0,2.71],[280.6,1.03],[281.1,0.82],[281.7,0.86],[282.8,0.9],[283.9,0.99],[285.0,0.94],[286.1,1.03],[287.2,1.03],[288.3,1.07],[289.3,1.11],[289.9,1.07],[290.4,1.03],[291.5,0.99],[292.6,0.9],[293.7,0.86],[294.8,0.97],[295.9,0.82],[296.4,0.78],[297.0,0.82],[298.1,0.82],[299.2,0.94],[300.3,0.99],[301.4,1.07],[301.9,1.11],[302.5,1.15],[303.5,1.15],[304.6,1.15],[305.7,1.17],[306.8,1.24],[307.9,1.24],[308.5,1.28],[309.0,1.24],[309.6,1.28],[310.1,1.24],[310.7,1.32],[311.2,1.28],[311.8,1.41],[312.3,1.49],[312.8,1.37],[313.4,1.2],[313.9,1.28],[314.5,1.37],[315.0,1.66],[315.6,2.29],[316.1,3.55],[316.7,4.39],[317.0,4.85],[317.6,4.6],[318.0,4.35],[318.5,4.14],[319.1,4.6],[319.5,4.39],[320.0,3.97],[320.5,3.13],[321.1,2.29],[321.6,1.45],[322.1,0.99],[322.7,1.45],[323.2,1.87],[323.8,1.95],[324.3,2.12],[324.9,2.29],[325.2,1.87],[325.6,2.16],[326.0,2.71],[326.3,3.21],[326.6,2.29],[327.1,2.12],[327.6,1.87],[328.2,3.13],[328.7,3.55],[329.3,3.8],[329.6,3.8],[329.9,3.13],[330.4,2.29],[330.9,2.71],[331.5,3.21],[332.0,3.0],[332.6,2.29],[333.1,1.87],[333.7,1.45],[334.2,1.7],[334.7,1.74],[335.3,1.72],[335.8,1.7],[336.4,1.74],[336.9,1.7],[337.5,1.7],[338.0,1.66],[338.6,1.62],[339.1,1.62],[339.7,1.62],[340.2,1.53],[340.8,1.49],[341.3,1.45],[341.9,1.45],[342.4,1.41],[343.0,1.43],[343.5,1.45],[344.0,1.37],[344.6,1.41],[345.1,1.45],[345.7,1.49],[346.2,1.66],[346.8,1.78],[347.3,1.87],[347.9,1.95],[348.4,2.08],[349.0,1.95],[349.5,2.08],[350.1,2.29],[350.6,2.29],[351.2,2.29],[351.7,2.33],[352.3,2.29],[352.8,2.37],[353.3,2.21],[353.9,2.29],[354.4,2.29],[355.0,2.12],[355.5,2.29]];

const parseTick = d3.utcParse("%d-%m-%y");
const fmtTick = d3.utcFormat("%d-%m-%y");
const t0 = parseTick(startDate).getTime();
const toDate = d => new Date(t0 + d * 864e5);
const seriesData = [enebolig, rekkehus, jakob, hytte];

const lineMarks = seriesData.map((data, i) =>
  Plot.line(data, {x: d => toDate(d[0]), y: d => d[1], stroke: seriesColors[i], strokeWidth: 4, strokeLinejoin: "round", clip: true})
);

const chart = Plot.plot({
  width: 1134, height: 613,
  marginLeft: 50, marginRight: 1, marginTop: 35, marginBottom: 41,
  style: {fontFamily: "'DejaVu Sans', sans-serif", fontSize: "16.5px", color: "black", background: "white"},
  x: {type: "utc", domain: [toDate(0), toDate(endDay)]},
  y: {domain: yDomain},
  marks: [
    ...lineMarks,
    Plot.frame({stroke: "black", strokeWidth: 1}),
    Plot.axisX({ticks: tickLabels.map(parseTick), tickFormat: fmtTick, tickSize: 5, tickPadding: 1, fontSize: 16.5, label: null}),
    Plot.axisY({ticks: yTicks, tickFormat: d => String(d), tickSize: 5, tickPadding: 3, fontSize: 16.5, label: null}),
    Plot.text([title], {frameAnchor: "top", lineAnchor: "middle", dy: -13, fontSize: 20}),
    Plot.text([xLabel], {frameAnchor: "bottom", lineAnchor: "middle", dy: 32, fontSize: 16}),
    Plot.text([yLabel], {frameAnchor: "left", textAnchor: "middle", lineAnchor: "middle", dx: -32, rotate: -90, fontSize: 16.5})
  ]
});

const wrap = document.getElementById("wrap");
wrap.appendChild(chart);
const legend = document.createElement("div");
legend.id = "legend";
seriesNames.forEach((name, i) => {
  const row = document.createElement("div");
  row.className = "row";
  row.innerHTML = `<svg width="34" height="8"><line x1="0" y1="4" x2="34" y2="4" stroke="${seriesColors[i]}" stroke-width="4"/></svg><span></span>`;
  row.querySelector("span").textContent = name;
  legend.appendChild(row);
});
wrap.appendChild(legend);
</script></body></html>
